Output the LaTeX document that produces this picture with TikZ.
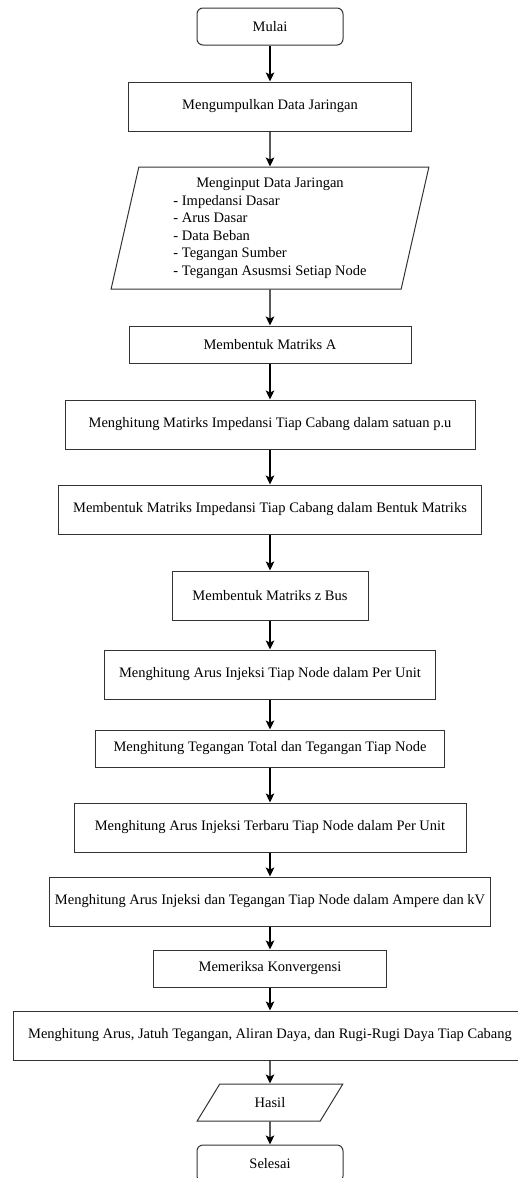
\documentclass[tikz,border=0pt]{standalone}
\usepackage{fontspec}
\setmainfont{Liberation Serif}
\usetikzlibrary{shapes.geometric,arrows.meta}
\tikzset{
	proses/.style={draw=black!80,line width=1pt,minimum height=49pt,inner sep=0pt,
		font=\fontsize{14.5}{17.5}\selectfont},
	terminal/.style={proses,rounded corners=6pt,minimum width=146pt,minimum height=37pt},
	masukan/.style={proses,trapezium,trapezium stretches=true}
}
\begin{document}
\begin{tikzpicture}[x=1pt,y=-1pt,>={Stealth[length=9pt,width=8.5pt,inset=2pt]}]%ALUR
			\useasboundingbox (0,0) rectangle (517,1178);
			\node[terminal] (mulai) at (270,26.5) {Mulai};
			\node[proses,minimum width=283pt] (kumpul) at (270,106.5) {Mengumpulkan Data Jaringan};
			\node[masukan,minimum width=318pt,minimum height=122pt,
				trapezium left angle=79,trapezium right angle=101] (input) at (270,228)
				{\begin{tabular}{@{}l@{}}
					\multicolumn{1}{@{}c@{}}{Menginput Data Jaringan}\\
					- Impedansi Dasar\\
					- Arus Dasar\\
					- Data Beban\\
					- Tegangan Sumber\\
					- Tegangan Asusmsi Setiap Node
				\end{tabular}};
			\node[proses,minimum width=282pt,minimum height=37pt] (matA) at (270,344.5) {Membentuk Matriks A};
			\node[proses,minimum width=410pt] (zpu) at (270,424.5) {Menghitung Matirks Impedansi Tiap Cabang dalam satuan p.u};
			\node[proses,minimum width=423pt] (zmat) at (270,509.5) {Membentuk Matriks Impedansi Tiap Cabang dalam Bentuk Matriks};
			\node[proses,minimum width=196pt] (zbus) at (270,595.5) {Membentuk Matriks z Bus};
			\node[proses,minimum width=331pt] (arus) at (270,674.5) {Menghitung Arus Injeksi Tiap Node dalam Per Unit};
			\node[proses,minimum width=349pt,minimum height=37pt] (teg) at (270,748.5) {Menghitung Tegangan Total dan Tegangan Tiap Node};
			\node[proses,minimum width=392pt] (arusbaru) at (270,827.5) {Menghitung Arus Injeksi Terbaru Tiap Node dalam Per Unit};
			\node[proses,minimum width=441pt] (ampere) at (270,901.5) {Menghitung Arus Injeksi dan Tegangan Tiap Node dalam Ampere dan kV};
			\node[proses,minimum width=233pt,minimum height=37pt] (konv) at (270,968.5) {Memeriksa Konvergensi};
			\node[proses,minimum width=514pt] (rugi) at (270,1035.5) {Menghitung Arus, Jatuh Tegangan, Aliran Daya, dan Rugi-Rugi Daya Tiap Cabang};
			\node[masukan,minimum width=146pt,minimum height=37pt,
				trapezium left angle=56,trapezium right angle=124] (hasil) at (270,1102.5) {Hasil};
			\node[terminal] (selesai) at (270,1163.5) {Selesai};
			\foreach \a/\b in {mulai/kumpul,kumpul/input,input/matA,matA/zpu,zpu/zmat,zmat/zbus,
				zbus/arus,arus/teg,teg/arusbaru,arusbaru/ampere,ampere/konv,konv/rugi,rugi/hasil,hasil/selesai}
			\draw[->,line width=1.3pt] (\a.south)--(\b.north);
\end{tikzpicture}
\end{document}
